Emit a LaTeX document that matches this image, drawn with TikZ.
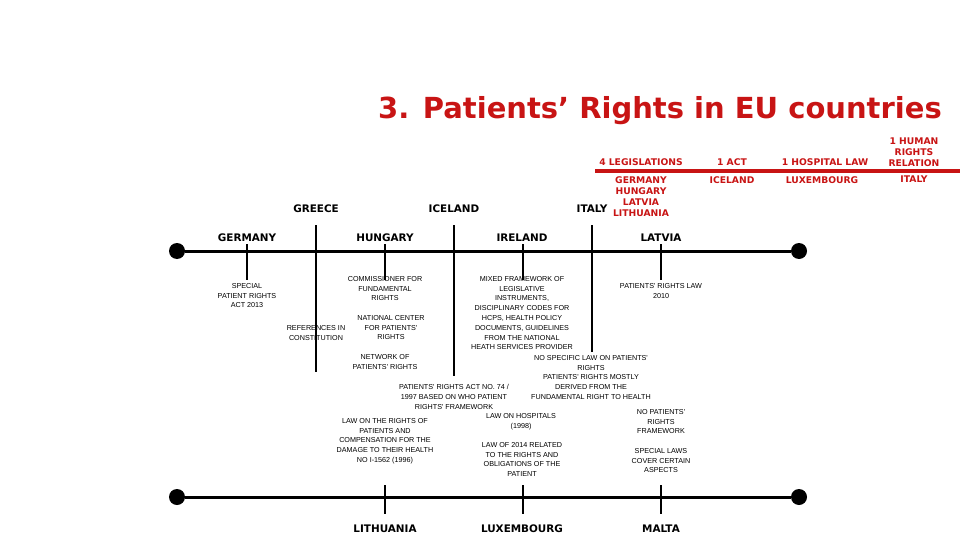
\documentclass[tikz,border=0pt]{standalone}
\usepackage{fontspec}
\setmainfont{DejaVu Sans}
\newfontfamily\notefont{Liberation Sans}
\usetikzlibrary{positioning}
\definecolor{titlered}{RGB}{200,20,20}
\tikzset{
  axis/.style={line width=3pt},
  tick/.style={line width=1.2pt},
  dot/.style={circle,fill=black,inner sep=0pt,minimum size=16pt},
  country/.style={font=\bfseries\fontsize{10.4}{11}\selectfont,inner sep=0pt},
  note/.style={font=\notefont\fontsize{7.2}{9.8}\selectfont,align=center,inner sep=0pt,anchor=north},
  redhead/.style={font=\bfseries\fontsize{9.2}{11.3}\selectfont,text=titlered,align=center,inner sep=0pt,anchor=base}
}
\begin{document}
\begin{tikzpicture}[x=1pt,y=-1pt]
	\useasboundingbox (0,0) rectangle (960,540);
	% title
	\node[font=\bfseries\fontsize{29}{34}\selectfont,text=titlered,inner sep=0pt] (title) at (660,111) {3. Patients’ Rights in EU countries};
	
	% timelines
	\node[dot] (t1) at (177,251) {};
	\node[dot] (t2) at (799,251) {};
	\draw[axis] (t1) -- (t2);
	\node[dot] (b1) at (177,497) {};
	\node[dot] (b2) at (799,497) {};
	\draw[axis] (b1) -- (b2);
	
	% countries
	\node[country] (de) at (247,238) {GERMANY};
	\node[country] (hu) at (385,238) {HUNGARY};
	\node[country] (ie) at (522,238) {IRELAND};
	\node[country] (lv) at (661,238) {LATVIA};
	\node[country] (gr) at (316,209) {GREECE};
	\node[country] (is) at (454,209) {ICELAND};
	\node[country] (it) at (592,209) {ITALY};
	\node[country] (lt) at (385,529) {LITHUANIA};
	\node[country] (lu) at (522,529) {LUXEMBOURG};
	\node[country] (mt) at (661,529) {MALTA};
	
	% ticks
	\coordinate (deE) at (247,280);
	\coordinate (huE) at (385,280);
	\coordinate (ieE) at (523,280);
	\coordinate (lvE) at (661,280);
	\coordinate (grS) at (316,225);
	\coordinate (grE) at (316,372);
	\coordinate (isS) at (454,225);
	\coordinate (isE) at (454,376);
	\coordinate (itS) at (592,225);
	\coordinate (itE) at (592,352);
	\coordinate (ltS) at (385,485);
	\coordinate (luS) at (523,485);
	\coordinate (mtS) at (661,485);
	\draw[tick] (247,244) -- (deE);
	\draw[tick] (385,244) -- (huE);
	\draw[tick] (523,244) -- (ieE);
	\draw[tick] (661,244) -- (lvE);
	\draw[tick] (grS) -- (grE);
	\draw[tick] (isS) -- (isE);
	\draw[tick] (itS) -- (itE);
	\draw[tick] (ltS) -- (385,514);
	\draw[tick] (luS) -- (523,514);
	\draw[tick] (mtS) -- (661,514);
	
	% notes, upper line
	\node[note] (n1) at (247,283) {SPECIAL\\PATIENT RIGHTS\\ACT 2013};
	\node[note] (n2) at (316,325) {REFERENCES IN\\CONSTITUTION};
	\node[note] (n3) at (385,276) {COMMISSIONER FOR\\FUNDAMENTAL\\RIGHTS};
	\node[note] (n4) at (391,315) {NATIONAL CENTER\\FOR PATIENTS'\\RIGHTS};
	\node[note] (n5) at (385,354) {NETWORK OF\\PATIENTS' RIGHTS};
	\node[note] (n6) at (522,276) {MIXED FRAMEWORK OF\\LEGISLATIVE\\INSTRUMENTS,\\DISCIPLINARY CODES FOR\\HCPS, HEALTH POLICY\\DOCUMENTS, GUIDELINES\\FROM THE NATIONAL\\HEATH SERVICES PROVIDER};
	\node[note] (n7) at (591,355) {NO SPECIFIC LAW ON PATIENTS'\\RIGHTS\\PATIENTS' RIGHTS MOSTLY\\DERIVED FROM THE\\FUNDAMENTAL RIGHT TO HEALTH};
	\node[note] (n8) at (661,283) {PATIENTS' RIGHTS LAW\\2010};
	
	% notes, lower line
	\node[note] (n9) at (454,384) {PATIENTS' RIGHTS ACT NO. 74 /\\1997 BASED ON WHO PATIENT\\RIGHTS' FRAMEWORK};
	\node[note] (n10) at (385,418) {LAW ON THE RIGHTS OF\\PATIENTS AND\\COMPENSATION FOR THE\\DAMAGE TO THEIR HEALTH\\NO I-1562 (1996)};
	\node[note] (n11) at (521,413) {LAW ON HOSPITALS\\(1998)};
	\node[note] (n12) at (522,442) {LAW OF 2014 RELATED\\TO THE RIGHTS AND\\OBLIGATIONS OF THE\\PATIENT};
	\node[note] (n13) at (661,409) {NO PATIENTS'\\RIGHTS\\FRAMEWORK};
	\node[note] (n14) at (661,448) {SPECIAL LAWS\\COVER CERTAIN\\ASPECTS};
	
	% red summary table
	\coordinate (rL) at (595,171);
	\coordinate (rR) at (960,171);
	\draw[titlered,line width=4pt] (rL) -- (rR);
	\node[redhead] (h1) at (641,165) {4 LEGISLATIONS};
	\node[redhead] (h2) at (732,165) {1 ACT};
	\node[redhead] (h3) at (825,165) {1 HOSPITAL LAW};
	\node[redhead,anchor=south] (h4) at (914,167) {1 HUMAN\\RIGHTS\\RELATION};
	\node[redhead,anchor=north] (c1) at (641,176) {GERMANY\\HUNGARY\\LATVIA\\LITHUANIA};
	\node[redhead,anchor=north] (c2) at (732,176) {ICELAND};
	\node[redhead,anchor=north] (c3) at (822,176) {LUXEMBOURG};
	\node[redhead,anchor=north] (c4) at (914,176) {ITALY};
\end{tikzpicture}
\end{document}
